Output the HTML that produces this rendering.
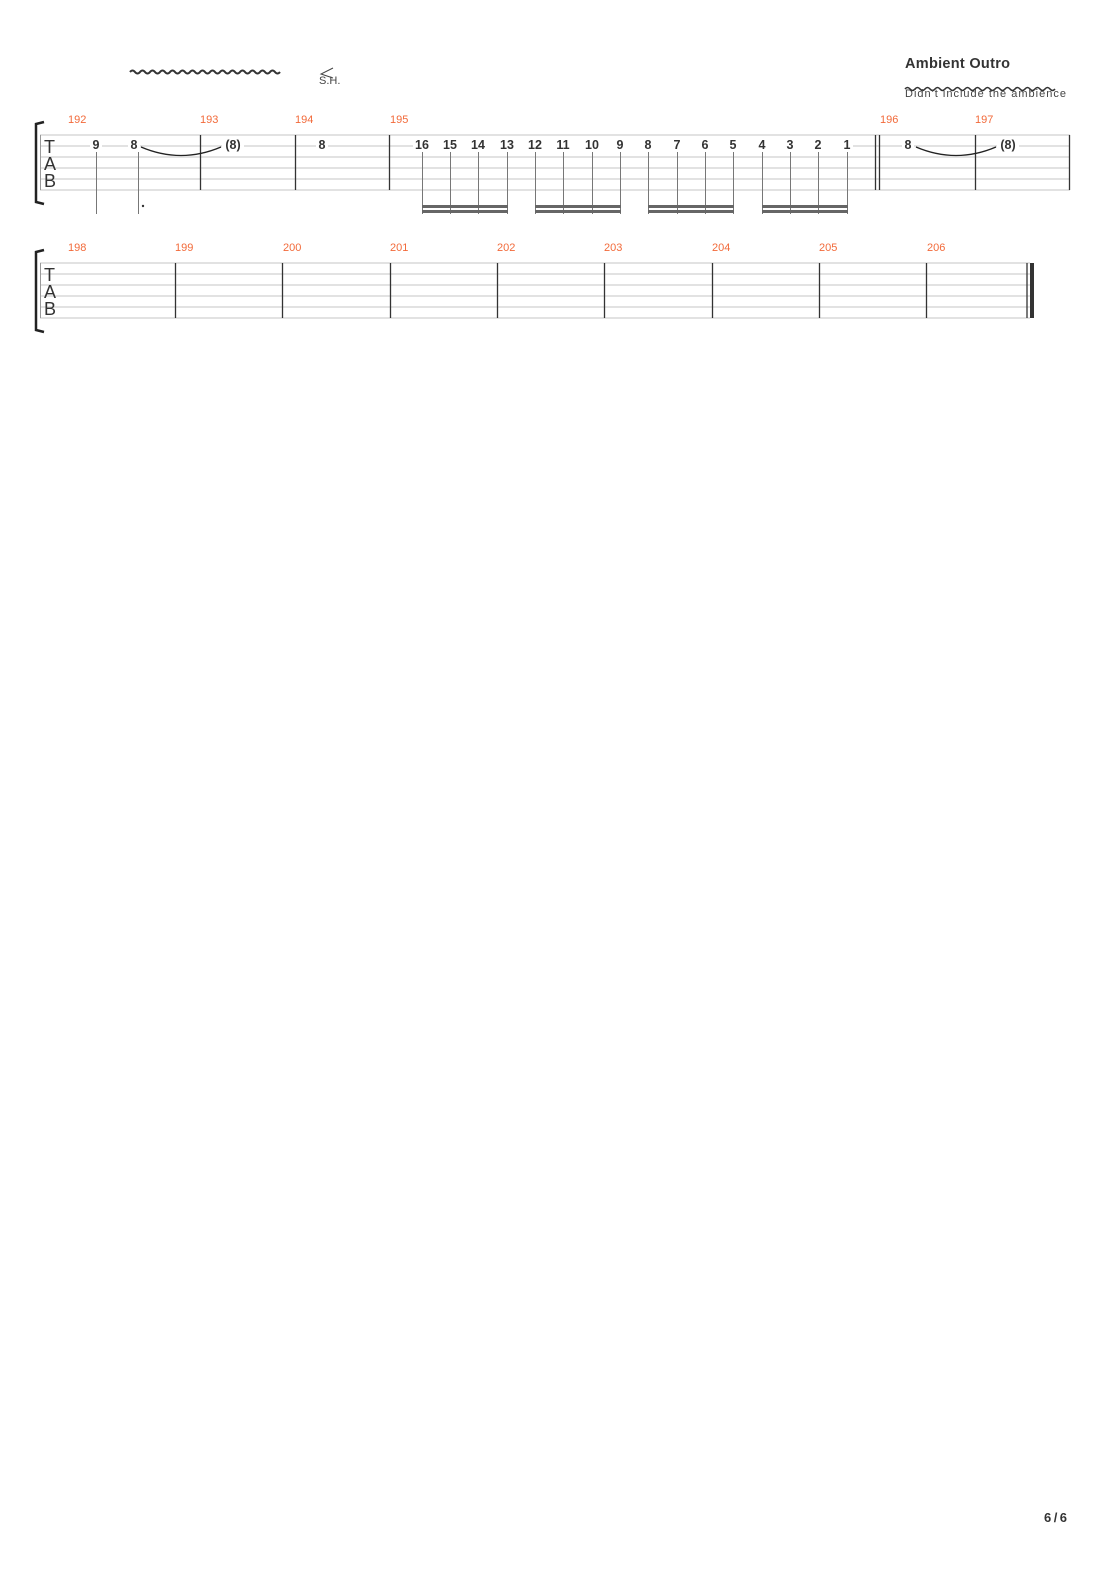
<!DOCTYPE html>
<html><head><meta charset="utf-8"><style>
body{margin:0;background:#fff;}
svg{display:block;}
text{font-family:"Liberation Sans",sans-serif;}
.n{font-size:12.5px;font-weight:bold;fill:#333;text-anchor:middle;}
.m{font-size:11px;fill:#f26a3a;}
</style></head><body>
<svg width="1110" height="1570" viewBox="0 0 1110 1570" xmlns="http://www.w3.org/2000/svg">
<path d="M130 72 q2.5 -3 5 0 t5 0 t5 0 t5 0 t5 0 t5 0 t5 0 t5 0 t5 0 t5 0 t5 0 t5 0 t5 0 t5 0 t5 0 t5 0 t5 0 t5 0 t5 0 t5 0 t5 0 t5 0 t5 0 t5 0 t5 0 t5 0 t5 0 t5 0 t5 0 t5 0" fill="none" stroke="#333" stroke-width="2"/>
<path d="M333 68 L321 74 L333 78" fill="none" stroke="#444" stroke-width="1"/>
<text x="319" y="84" font-size="11" fill="#444">S.H.</text>
<text x="905" y="68" font-size="14.5" font-weight="bold" fill="#333" textLength="105">Ambient Outro</text>
<path d="M905 89 q2.5 -3 5 0 t5 0 t5 0 t5 0 t5 0 t5 0 t5 0 t5 0 t5 0 t5 0 t5 0 t5 0 t5 0 t5 0 t5 0 t5 0 t5 0 t5 0 t5 0 t5 0 t5 0 t5 0 t5 0 t5 0 t5 0 t5 0 t5 0 t5 0 t5 0 t5 0" fill="none" stroke="#333" stroke-width="1.6"/>
<text x="905" y="97" font-size="11" fill="#444" textLength="161">Didn't include the ambience</text>

<g stroke="#c4c4c4" stroke-width="1">
<line x1="40" y1="135" x2="1070" y2="135"/><line x1="40" y1="146" x2="1070" y2="146"/>
<line x1="40" y1="157" x2="1070" y2="157"/><line x1="40" y1="168" x2="1070" y2="168"/>
<line x1="40" y1="179" x2="1070" y2="179"/><line x1="40" y1="190" x2="1070" y2="190"/>
</g>
<line x1="40.5" y1="135" x2="40.5" y2="190" stroke="#999"/>
<path d="M44 122 L36 124 L36 202 L44 204" fill="none" stroke="#222" stroke-width="2.5"/>
<text x="44" y="153" font-size="18" fill="#333" transform="translate(44 153) scale(1 1) translate(-44 -153)">T</text>
<text x="44" y="170" font-size="18" fill="#333">A</text>
<text x="44" y="187" font-size="18" fill="#333">B</text>
<g stroke="#333" stroke-width="1.3">
<line x1="200.5" y1="135" x2="200.5" y2="190"/><line x1="295.5" y1="135" x2="295.5" y2="190"/>
<line x1="389.5" y1="135" x2="389.5" y2="190"/><line x1="875.5" y1="135" x2="875.5" y2="190"/>
<line x1="879.5" y1="135" x2="879.5" y2="190"/><line x1="975.5" y1="135" x2="975.5" y2="190"/>
<line x1="1069.5" y1="135" x2="1069.5" y2="190"/>
</g>
<text class="m" x="68" y="123">192</text><text class="m" x="200" y="123">193</text>
<text class="m" x="295" y="123">194</text><text class="m" x="390" y="123">195</text>
<text class="m" x="880" y="123">196</text><text class="m" x="975" y="123">197</text>
<path d="M141 147 Q181 164 221 147" fill="none" stroke="#222" stroke-width="1.3"/>
<path d="M916 147 Q956 164 996 147" fill="none" stroke="#222" stroke-width="1.3"/>
<g fill="#fff">
<rect x="90" y="139" width="12" height="12"/><rect x="128" y="139" width="12" height="12"/>
<rect x="222" y="139" width="22" height="12"/><rect x="316" y="139" width="12" height="12"/>
<rect x="902" y="139" width="12" height="12"/><rect x="997" y="139" width="22" height="12"/>
<rect x="413" y="139" width="440" height="12"/>
</g>
<text class="n" x="96" y="149">9</text><text class="n" x="134" y="149">8</text>
<text class="n" x="233" y="149">(8)</text><text class="n" x="322" y="149">8</text>
<text class="n" x="908" y="149">8</text><text class="n" x="1008" y="149">(8)</text>
<text class="n" x="422" y="149">16</text><text class="n" x="450" y="149">15</text><text class="n" x="478" y="149">14</text><text class="n" x="507" y="149">13</text>
<text class="n" x="535" y="149">12</text><text class="n" x="563" y="149">11</text><text class="n" x="592" y="149">10</text><text class="n" x="620" y="149">9</text>
<text class="n" x="648" y="149">8</text><text class="n" x="677" y="149">7</text><text class="n" x="705" y="149">6</text><text class="n" x="733" y="149">5</text>
<text class="n" x="762" y="149">4</text><text class="n" x="790" y="149">3</text><text class="n" x="818" y="149">2</text><text class="n" x="847" y="149">1</text>
<g stroke="#777" stroke-width="1">
<line x1="96.5" y1="152" x2="96.5" y2="214"/><line x1="138.5" y1="152" x2="138.5" y2="214"/>
<line x1="422.5" y1="152" x2="422.5" y2="214"/><line x1="450.5" y1="152" x2="450.5" y2="214"/><line x1="478.5" y1="152" x2="478.5" y2="214"/><line x1="507.5" y1="152" x2="507.5" y2="214"/>
<line x1="535.5" y1="152" x2="535.5" y2="214"/><line x1="563.5" y1="152" x2="563.5" y2="214"/><line x1="592.5" y1="152" x2="592.5" y2="214"/><line x1="620.5" y1="152" x2="620.5" y2="214"/>
<line x1="648.5" y1="152" x2="648.5" y2="214"/><line x1="677.5" y1="152" x2="677.5" y2="214"/><line x1="705.5" y1="152" x2="705.5" y2="214"/><line x1="733.5" y1="152" x2="733.5" y2="214"/>
<line x1="762.5" y1="152" x2="762.5" y2="214"/><line x1="790.5" y1="152" x2="790.5" y2="214"/><line x1="818.5" y1="152" x2="818.5" y2="214"/><line x1="847.5" y1="152" x2="847.5" y2="214"/>
</g>
<circle cx="143" cy="206" r="1.2" fill="#333"/>
<g fill="#666">
<rect x="422" y="205" width="86" height="3"/><rect x="422" y="210" width="86" height="3"/>
<rect x="535" y="205" width="86" height="3"/><rect x="535" y="210" width="86" height="3"/>
<rect x="648" y="205" width="86" height="3"/><rect x="648" y="210" width="86" height="3"/>
<rect x="762" y="205" width="86" height="3"/><rect x="762" y="210" width="86" height="3"/>
</g>

<g stroke="#c4c4c4" stroke-width="1">
<line x1="40" y1="263" x2="1030" y2="263"/><line x1="40" y1="274" x2="1030" y2="274"/>
<line x1="40" y1="285" x2="1030" y2="285"/><line x1="40" y1="296" x2="1030" y2="296"/>
<line x1="40" y1="307" x2="1030" y2="307"/><line x1="40" y1="318" x2="1030" y2="318"/>
</g>
<line x1="40.5" y1="263" x2="40.5" y2="318" stroke="#999"/>
<path d="M44 250 L36 252 L36 330 L44 332" fill="none" stroke="#222" stroke-width="2.5"/>
<text x="44" y="281" font-size="18" fill="#333">T</text>
<text x="44" y="298" font-size="18" fill="#333">A</text>
<text x="44" y="315" font-size="18" fill="#333">B</text>
<g stroke="#333" stroke-width="1.3">
<line x1="175.5" y1="263" x2="175.5" y2="318"/><line x1="282.5" y1="263" x2="282.5" y2="318"/>
<line x1="390.5" y1="263" x2="390.5" y2="318"/><line x1="497.5" y1="263" x2="497.5" y2="318"/>
<line x1="604.5" y1="263" x2="604.5" y2="318"/><line x1="712.5" y1="263" x2="712.5" y2="318"/>
<line x1="819.5" y1="263" x2="819.5" y2="318"/><line x1="926.5" y1="263" x2="926.5" y2="318"/>
<line x1="1027" y1="263" x2="1027" y2="318"/>
</g>
<rect x="1030" y="263" width="4" height="55" fill="#333"/>
<text class="m" x="68" y="251">198</text><text class="m" x="175" y="251">199</text>
<text class="m" x="283" y="251">200</text><text class="m" x="390" y="251">201</text>
<text class="m" x="497" y="251">202</text><text class="m" x="604" y="251">203</text>
<text class="m" x="712" y="251">204</text><text class="m" x="819" y="251">205</text>
<text class="m" x="927" y="251">206</text>

<text x="1044" y="1522" font-size="13" font-weight="bold" fill="#333" font-family="Liberation Serif" textLength="23">6/6</text>
</svg>
</body></html>
